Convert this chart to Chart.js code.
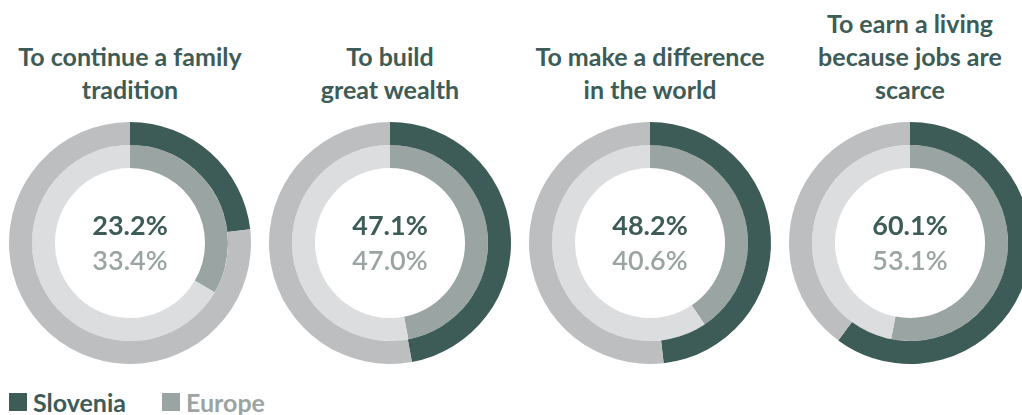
<!DOCTYPE html>
<html>
<head>
<meta charset="utf-8">
<script src="https://cdn.jsdelivr.net/npm/chart.js@4"></script>
<style>
body { margin: 0; width: 1022px; height: 415px; overflow: hidden; background: #fff; font-family: Lato, sans-serif; }
.col { position: absolute; top: 0; width: 260px; }
.title { position: absolute; left: 0; width: 260px; display: flex; flex-direction: column; justify-content: flex-end; align-items: center; color: #3d5c57; font-weight: bold; font-size: 25px; line-height: 33px; text-align: center; }
.box { position: absolute; top: 118px; width: 260px; height: 250px; }
.legend { position: absolute; left: 9px; top: 387px; font-size: 25px; font-weight: bold; display: flex; }
.legend span { display: flex; align-items: center; margin-right: 36px; }
.legend i { display: inline-block; width: 18px; height: 18px; margin-right: 6px; }
</style>
</head>
<body>
<div id="wrap"></div>
<div class="legend">
  <span style="color:#3d5c57"><i style="background:#3d5c57"></i>Slovenia</span>
  <span style="color:#9aa4a3"><i style="background:#9aa4a3"></i>Europe</span>
</div>
<script>
var titles = [
    ['To continue a family', 'tradition'],
    ['To build', 'great wealth'],
    ['To make a difference', 'in the world'],
    ['To earn a living', 'because jobs are', 'scarce']
];
var slovenia = [23.2, 47.1, 48.2, 60.1];
var europe = [33.4, 47.0, 40.6, 53.1];

var dark = '#3d5c57';
var grey = '#9aa4a3';

// writes the two percentages in the hole
var centerText = {
    id: 'centerText',
    afterDraw: function(chart) {
        var ctx = chart.ctx;
        var a = chart.chartArea;
        var x = (a.left + a.right) / 2;
        var y = (a.top + a.bottom) / 2;
        var i = chart.options.plugins.centerText.index;
        ctx.save();
        ctx.textAlign = 'center';
        ctx.textBaseline = 'alphabetic';
        ctx.font = 'bold 27px Lato';
        ctx.fillStyle = dark;
        ctx.fillText(slovenia[i].toFixed(1) + '%', x, y - 8);
        ctx.font = '600 27px Lato';
        ctx.fillStyle = grey;
        ctx.fillText(europe[i].toFixed(1) + '%', x, y + 27);
        ctx.restore();
    }
};

var wrap = document.getElementById('wrap');

for (var i = 0; i < titles.length; i++) {
    var col = document.createElement('div');
    col.className = 'col';
    col.style.left = (i * 260) + 'px';
    col.style.height = '118px';
    var t = document.createElement('div');
    t.className = 'title';
    t.style.top = '0';
    t.style.height = '106px';
    t.innerHTML = titles[i].join('<br>');
    col.appendChild(t);
    wrap.appendChild(col);

    var box = document.createElement('div');
    box.className = 'box';
    box.style.left = (i * 260) + 'px';
    var cv = document.createElement('canvas');
    box.appendChild(cv);
    wrap.appendChild(box);

    new Chart(cv.getContext('2d'), {
        type: 'doughnut',
        data: {
            labels: ['yes', 'rest'],
            datasets: [{
                label: 'Slovenia',
                data: [slovenia[i], 100 - slovenia[i]],
                backgroundColor: [dark, '#bcbec0'],
                borderWidth: 0
            }, {
                label: 'Europe',
                data: [europe[i], 100 - europe[i]],
                backgroundColor: [grey, '#dcdddf'],
                borderWidth: 0
            }]
        },
        options: {
            responsive: true,
            maintainAspectRatio: false,
            animation: false,
            cutout: '62%',
            layout: { padding: 4 },
            plugins: {
                legend: { display: false },
                tooltip: { enabled: false },
                centerText: { index: i }
            }
        },
        plugins: [centerText]
    });
}
</script>
</body>
</html>
